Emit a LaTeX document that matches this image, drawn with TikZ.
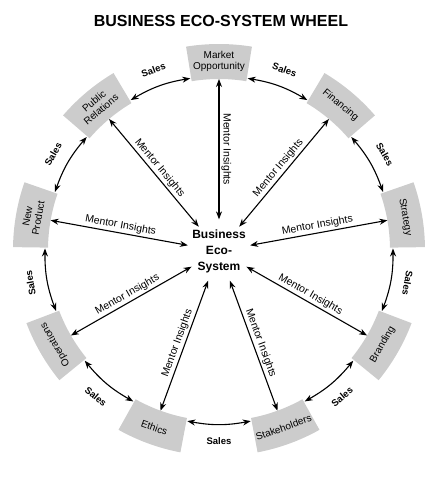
\documentclass[tikz,border=0pt]{standalone}
\usepackage{fontspec}
\setmainfont{Liberation Sans}
\usetikzlibrary{arrows.meta, positioning}

\definecolor{boxgray}{RGB}{204,204,204}

\tikzset{
    boxtext/.style={font=\fontsize{10}{11}\selectfont, align=center, inner sep=0pt},
    insight/.style={{Stealth[length=8pt,width=6pt]}-{Stealth[length=8pt,width=6pt]}, line width=1.1pt},
    insightlabel/.style={font=\fontsize{10.5}{12}\selectfont, sloped, midway, above, inner sep=2pt},
    sales/.style={{Stealth[length=8pt,width=6pt]}-{Stealth[length=8pt,width=6pt]}, line width=1.1pt},
    saleslabel/.style={font=\bfseries\fontsize{9.5}{11}\selectfont, sloped, midway, inner sep=0pt},
}

% one grey segment of the wheel
\newcommand{\wheelbox}[1]{%
    \fill[boxgray] (#1-9.2:171) -- (#1-9.2:206)
        arc[start angle=#1-9.2, end angle=#1+9.2, radius=206]
        -- (#1+9.2:171)
        arc[start angle=#1+9.2, end angle=#1-9.2, radius=171] -- cycle;}

\begin{document}
\begin{tikzpicture}[x=1pt, y=1pt]
    \useasboundingbox (-219,-229) rectangle (224,250);

    \node[font=\bfseries\fontsize{16}{18}\selectfont] (title) at (2,229) {BUSINESS ECO-SYSTEM WHEEL};

    % Segments
    \wheelbox{90}
    \wheelbox{50}
    \wheelbox{10}
    \wheelbox{-30}
    \wheelbox{-70}
    \wheelbox{-110}
    \wheelbox{-150}
    \wheelbox{170}
    \wheelbox{130}

    \node[boxtext] (mo) at (90:189) {Market\\Opportunity};
    \node[boxtext, rotate=-40] (fin) at (50:189) {Financing};
    \node[boxtext, rotate=-80] (str) at (10:189) {Strategy};
    \node[boxtext, rotate=60] (brd) at (-30:189) {Branding};
    \node[boxtext, rotate=20] (stk) at (-70:189) {Stakeholders};
    \node[boxtext, rotate=-20] (eth) at (-110:189) {Ethics};
    \node[boxtext, rotate=120] (ops) at (-150:189) {Operations};
    \node[boxtext, rotate=80] (np) at (170:189) {New\\Product};
    \node[boxtext, rotate=40] (pr) at (130:189) {Public\\Relations};

    % Inner edges and corners
    \coordinate (mo-in) at (0,171);
    \coordinate (fin-in) at (50:171);
    \coordinate (str-in) at (10:171);
    \coordinate (brd-in) at (-30:171);
    \coordinate (stk-in) at (-70:171);
    \coordinate (eth-in) at (-110:171);
    \coordinate (ops-in) at (-150:171);
    \coordinate (np-in) at (170:171);
    \coordinate (pr-in) at (130:171);

    \coordinate (mo-a) at (99.5:174);   \coordinate (mo-b) at (80.5:174);
    \coordinate (fin-a) at (59.5:174);  \coordinate (fin-b) at (40.5:174);
    \coordinate (str-a) at (19.5:174);  \coordinate (str-b) at (0.5:174);
    \coordinate (brd-a) at (-20.5:174); \coordinate (brd-b) at (-39.5:174);
    \coordinate (stk-a) at (-60.5:174); \coordinate (stk-b) at (-79.5:174);
    \coordinate (eth-a) at (-100.5:174); \coordinate (eth-b) at (-119.5:174);
    \coordinate (ops-a) at (-140.5:174); \coordinate (ops-b) at (-159.5:174);
    \coordinate (np-a) at (179.5:174);  \coordinate (np-b) at (160.5:174);
    \coordinate (pr-a) at (139.5:174);  \coordinate (pr-b) at (120.5:174);

    % Centre
    \node[circle, inner sep=-2pt, align=center, font=\bfseries\fontsize{12}{16}\selectfont] (eco) at (0,-1) {Business\\Eco-\\System};

    % Mentor insights
    \draw[insight] (mo-in) -- (eco) node[insightlabel, allow upside down] {Mentor Insights};
    \draw[insight] (eco) -- (fin-in) node[insightlabel] {Mentor Insights};
    \draw[insight] (eco) -- (str-in) node[insightlabel] {Mentor Insights};
    \draw[insight] (eco) -- (brd-in) node[insightlabel] {Mentor Insights};
    \draw[insight] (eco) -- (stk-in) node[insightlabel] {Mentor Insights};
    \draw[insight] (eth-in) -- (eco) node[insightlabel] {Mentor Insights};
    \draw[insight] (ops-in) -- (eco) node[insightlabel] {Mentor Insights};
    \draw[insight] (np-in) -- (eco) node[insightlabel] {Mentor Insights};
    \draw[insight] (pr-in) -- (eco) node[insightlabel] {Mentor Insights};

    % Sales around the wheel
    \draw[sales] (np-b) to[bend left=10.5] node[saleslabel, above=13pt] {Sales} (pr-a);
    \draw[sales] (pr-b) to[bend left=10.5] node[saleslabel, above=13pt] {Sales} (mo-a);
    \draw[sales] (mo-b) to[bend left=10.5] node[saleslabel, above=13pt] {Sales} (fin-a);
    \draw[sales] (fin-b) to[bend left=10.5] node[saleslabel, above=13pt] {Sales} (str-a);
    \draw[sales] (str-b) to[bend left=10.5] node[saleslabel, allow upside down, above=13pt] {Sales} (brd-a);
    \draw[sales] (stk-a) to[bend right=10.5] node[saleslabel, below=13pt] {Sales} (brd-b);
    \draw[sales] (eth-a) to[bend right=10.5] node[saleslabel, below=13pt] {Sales} (stk-b);
    \draw[sales] (ops-a) to[bend right=10.5] node[saleslabel, below=13pt] {Sales} (eth-b);
    \draw[sales] (ops-b) to[bend left=10.5] node[saleslabel, allow upside down, above=13pt] {Sales} (np-a);
\end{tikzpicture}
\end{document}
